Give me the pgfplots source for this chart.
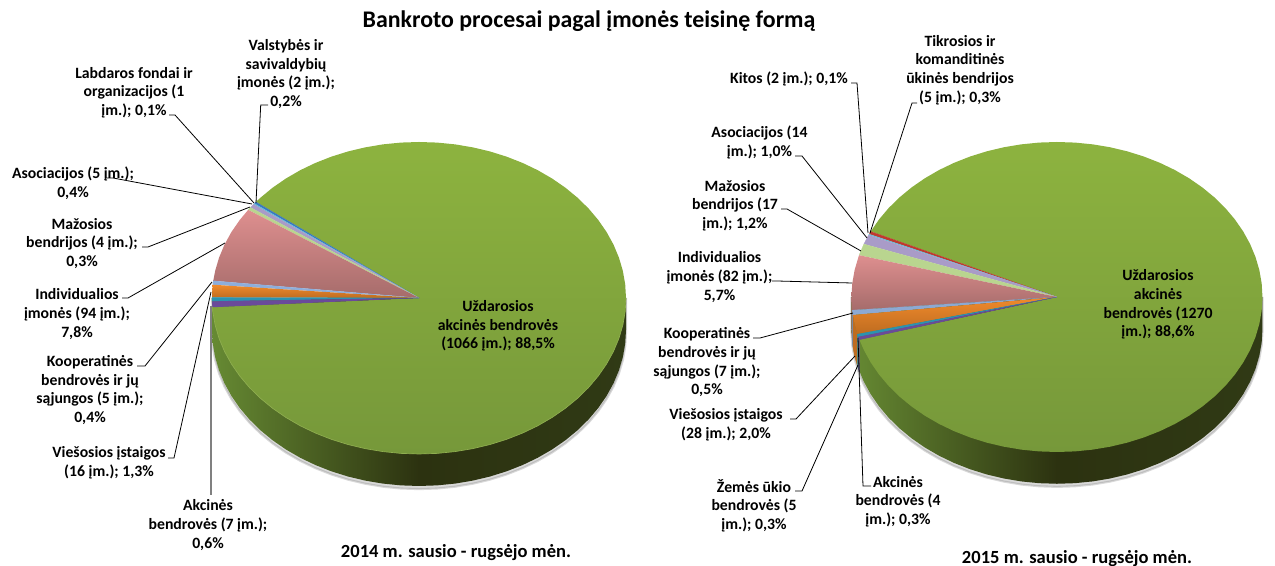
\documentclass[border=0pt]{standalone}
\usepackage{pgfplots}
\usepackage{pgfplotstable}
\usepackage{fontspec}
\setmainfont{Carlito}
\pgfplotsset{compat=1.18}
\definecolor{gT}{HTML}{8DB33F}\definecolor{gB}{HTML}{76983A}
\definecolor{wL}{HTML}{668A33}\definecolor{wM}{HTML}{2C3210}\definecolor{wR}{HTML}{303A15}
\definecolor{rT}{HTML}{DE8F8F}\definecolor{rB}{HTML}{A66C6B}
\definecolor{oT}{HTML}{F08A2C}\definecolor{oB}{HTML}{BE6C20}
\definecolor{lb}{HTML}{8DAEDC}\definecolor{lav}{HTML}{A99BC8}\definecolor{lg}{HTML}{B9D58F}
\definecolor{blu}{HTML}{3A78C0}\definecolor{cya}{HTML}{5FC0D8}\definecolor{tea}{HTML}{2B93B0}
\definecolor{pur}{HTML}{6A4A9A}\definecolor{red1}{HTML}{C0392F}\definecolor{rim}{HTML}{8FAE50}
\pgfplotstableread{
u v w s
-1 0 0 0
-1 0 -0.205 -0.225
-0.9962 -0.0872 -0.2922 -0.3122
-0.9848 -0.1736 -0.3786 -0.3986
-0.9659 -0.2588 -0.4638 -0.4838
-0.9397 -0.3420 -0.5470 -0.5670
-0.9063 -0.4226 -0.6276 -0.6476
-0.8660 -0.5000 -0.7050 -0.7250
-0.8192 -0.5736 -0.7786 -0.7986
-0.7660 -0.6428 -0.8478 -0.8678
-0.7071 -0.7071 -0.9121 -0.9321
-0.6428 -0.7660 -0.9710 -0.9910
-0.5736 -0.8192 -1.0242 -1.0442
-0.5000 -0.8660 -1.0710 -1.0910
-0.4226 -0.9063 -1.1113 -1.1313
-0.3420 -0.9397 -1.1447 -1.1647
-0.2588 -0.9659 -1.1709 -1.1909
-0.1736 -0.9848 -1.1898 -1.2098
-0.0872 -0.9962 -1.2012 -1.2212
0 -1 -1.2050 -1.2250
0.0872 -0.9962 -1.2012 -1.2212
0.1736 -0.9848 -1.1898 -1.2098
0.2588 -0.9659 -1.1709 -1.1909
0.3420 -0.9397 -1.1447 -1.1647
0.4226 -0.9063 -1.1113 -1.1313
0.5000 -0.8660 -1.0710 -1.0910
0.5736 -0.8192 -1.0242 -1.0442
0.6428 -0.7660 -0.9710 -0.9910
0.7071 -0.7071 -0.9121 -0.9321
0.7660 -0.6428 -0.8478 -0.8678
0.8192 -0.5736 -0.7786 -0.7986
0.8660 -0.5000 -0.7050 -0.7250
0.9063 -0.4226 -0.6276 -0.6476
0.9397 -0.3420 -0.5470 -0.5670
0.9659 -0.2588 -0.4638 -0.4838
0.9848 -0.1736 -0.3786 -0.3986
0.9962 -0.0872 -0.2922 -0.3122
1 0 -0.205 -0.225
1 0 0 0
}\lowerarc
\pgfplotsset{pie/.style={scale only axis,xmin=-1,xmax=1,ymin=-1,ymax=1,hide axis,clip=false,anchor=south west},
 s/.style={draw=#1,fill=#1,line width=0.15pt}}
\tikzset{lbl/.style={align=center,inner sep=0pt,font=\fontsize{11.8}{14}\selectfont\bfseries,text=black},
 ldr/.style={black,line width=0.6pt}}
\begin{document}
\begin{tikzpicture}
\useasboundingbox (0pt,0pt) rectangle (956.25pt,424.5pt);
% ---------- 2014 pie
\begin{axis}[pie,at={(159pt,84pt)},width=310.5pt,height=234pt]
\addplot[draw=gray,line width=1.6pt,fill=gray,opacity=0.3] table[x=u,y=s]{\lowerarc};
\addplot[draw=none,left color=wL,right color=wR,middle color=wM] table[x=u,y=w]{\lowerarc};
\addplot[draw=none,top color=gT,bottom color=gB] coordinates {(0,0)(-0.7880,0.6157)(-0.7660,0.6428)(-0.7071,0.7071)(-0.6428,0.7660)(-0.5736,0.8192)(-0.5,0.8660)(-0.4226,0.9063)(-0.3420,0.9397)(-0.2588,0.9659)(-0.1736,0.9848)(-0.0872,0.9962)(0,1)(0.0872,0.9962)(0.1736,0.9848)(0.2588,0.9659)(0.3420,0.9397)(0.4226,0.9063)(0.5,0.8660)(0.5736,0.8192)(0.6428,0.7660)(0.7071,0.7071)(0.7660,0.6428)(0.8192,0.5736)(0.8660,0.5)(0.9063,0.4226)(0.9397,0.3420)(0.9659,0.2588)(0.9848,0.1736)(0.9962,0.0872)(1,0)(0.9962,-0.0872)(0.9848,-0.1736)(0.9659,-0.2588)(0.9397,-0.3420)(0.9063,-0.4226)(0.8660,-0.5)(0.8192,-0.5736)(0.7660,-0.6428)(0.7071,-0.7071)(0.6428,-0.7660)(0.5736,-0.8192)(0.5,-0.8660)(0.4226,-0.9063)(0.3420,-0.9397)(0.2588,-0.9659)(0.1736,-0.9848)(0.0872,-0.9962)(0,-1)(-0.0872,-0.9962)(-0.1736,-0.9848)(-0.2588,-0.9659)(-0.3420,-0.9397)(-0.4226,-0.9063)(-0.5,-0.8660)(-0.5736,-0.8192)(-0.6428,-0.7660)(-0.7071,-0.7071)(-0.7660,-0.6428)(-0.8192,-0.5736)(-0.8660,-0.5)(-0.9063,-0.4226)(-0.9397,-0.3420)(-0.9659,-0.2588)(-0.9848,-0.1736)(-0.9962,-0.0872)(-0.9982,-0.0593)};
\addplot[rim,line width=0.5pt] table[x=u,y=v]{\lowerarc};
\addplot[s=blu] coordinates {(0,0)(-0.7880,0.6157)(-0.7957,0.6057)};
\addplot[s=cya] coordinates {(0,0)(-0.7957,0.6057)(-0.7994,0.6007)};
\addplot[s=lav] coordinates {(0,0)(-0.7994,0.6007)(-0.8144,0.5805)};
\addplot[s=lg] coordinates {(0,0)(-0.8144,0.5805)(-0.8251,0.5650)};
\addplot[draw=none,top color=rT,bottom color=rB] coordinates {(0,0)(-0.8251,0.5650)(-0.8660,0.5)(-0.9063,0.4226)(-0.9397,0.3420)(-0.9659,0.2588)(-0.9848,0.1736)(-0.9939,0.1101)};
\addplot[s=lb] coordinates {(0,0)(-0.9939,0.1101)(-0.9964,0.0851)};
\addplot[draw=none,top color=oT,bottom color=oB] coordinates {(0,0)(-0.9964,0.0851)(-0.9990,0.0436)(-1,0.0035)};
\addplot[s=tea] coordinates {(0,0)(-1,0.0035)(-0.9998,-0.0216)};
\addplot[s=pur] coordinates {(0,0)(-0.9998,-0.0216)(-0.9982,-0.0593)};
\end{axis}
% ---------- 2015 pie
\begin{axis}[pie,at={(638.6pt,85.5pt)},width=308.25pt,height=232.5pt]
\addplot[draw=gray,line width=1.6pt,fill=gray,opacity=0.3] table[x=u,y=s]{\lowerarc};
\addplot[draw=none,left color=wL,right color=wR,middle color=wM] table[x=u,y=w]{\lowerarc};
\addplot[s=rB] coordinates {(-1,0)(-0.9964,-0.0851)(-0.9964,-0.2911)(-1,-0.206)};
\addplot[s=lb!80!black] coordinates {(-0.9964,-0.0851)(-0.9932,-0.1163)(-0.9932,-0.3223)(-0.9964,-0.2911)};
\addplot[s=oB] coordinates {(-0.9932,-0.1163)(-0.9848,-0.1736)(-0.9708,-0.2399)(-0.9708,-0.4459)(-0.9848,-0.3796)(-0.9932,-0.3223)};
\addplot[s=tea] coordinates {(-0.9708,-0.2399)(-0.9661,-0.2581)(-0.9661,-0.4641)(-0.9708,-0.4459)};
\addplot[s=pur] coordinates {(-0.9661,-0.2581)(-0.9611,-0.2763)(-0.9611,-0.4823)(-0.9661,-0.4641)};
\addplot[draw=none,top color=gT,bottom color=gB] coordinates {(0,0)(-0.9063,0.4226)(-0.8660,0.5)(-0.8192,0.5736)(-0.7660,0.6428)(-0.7071,0.7071)(-0.6428,0.7660)(-0.5736,0.8192)(-0.5,0.8660)(-0.4226,0.9063)(-0.3420,0.9397)(-0.2588,0.9659)(-0.1736,0.9848)(-0.0872,0.9962)(0,1)(0.0872,0.9962)(0.1736,0.9848)(0.2588,0.9659)(0.3420,0.9397)(0.4226,0.9063)(0.5,0.8660)(0.5736,0.8192)(0.6428,0.7660)(0.7071,0.7071)(0.7660,0.6428)(0.8192,0.5736)(0.8660,0.5)(0.9063,0.4226)(0.9397,0.3420)(0.9659,0.2588)(0.9848,0.1736)(0.9962,0.0872)(1,0)(0.9962,-0.0872)(0.9848,-0.1736)(0.9659,-0.2588)(0.9397,-0.3420)(0.9063,-0.4226)(0.8660,-0.5)(0.8192,-0.5736)(0.7660,-0.6428)(0.7071,-0.7071)(0.6428,-0.7660)(0.5736,-0.8192)(0.5,-0.8660)(0.4226,-0.9063)(0.3420,-0.9397)(0.2588,-0.9659)(0.1736,-0.9848)(0.0872,-0.9962)(0,-1)(-0.0872,-0.9962)(-0.1736,-0.9848)(-0.2588,-0.9659)(-0.3420,-0.9397)(-0.4226,-0.9063)(-0.5,-0.8660)(-0.5736,-0.8192)(-0.6428,-0.7660)(-0.7071,-0.7071)(-0.7660,-0.6428)(-0.8192,-0.5736)(-0.8660,-0.5)(-0.9063,-0.4226)(-0.9397,-0.3420)(-0.9611,-0.2763)};
\addplot[s=red1] coordinates {(0,0)(-0.9063,0.4226)(-0.9141,0.4054)};
\addplot[s=cya] coordinates {(0,0)(-0.9141,0.4054)(-0.9166,0.3996)};
\addplot[s=lav] coordinates {(0,0)(-0.9166,0.3996)(-0.9399,0.3414)};
\addplot[s=lg] coordinates {(0,0)(-0.9399,0.3414)(-0.9630,0.2696)};
\addplot[draw=none,top color=rT,bottom color=rB] coordinates {(0,0)(-0.9630,0.2696)(-0.9659,0.2588)(-0.9848,0.1736)(-0.9962,0.0872)(-1,0)(-0.9964,-0.0851)};
\addplot[s=lb!90!gray] coordinates {(0,0)(-0.9964,-0.0851)(-0.9932,-0.1163)};
\addplot[draw=none,top color=oT,bottom color=oB] coordinates {(0,0)(-0.9932,-0.1163)(-0.9848,-0.1736)(-0.9708,-0.2399)};
\addplot[s=tea] coordinates {(0,0)(-0.9708,-0.2399)(-0.9661,-0.2581)};
\addplot[s=pur] coordinates {(0,0)(-0.9661,-0.2581)(-0.9611,-0.2763)};
\end{axis}
% ---------- layout axis in image pixels: leaders and texts
\begin{axis}[at={(0pt,0pt)},anchor=south west,scale only axis,width=956.25pt,height=424.5pt,xmin=0,xmax=1275,ymin=0,ymax=566,y dir=reverse,hide axis,clip=false]
\addplot[ldr] coordinates {(256,203)(260.7,105)(268,105)};
\addplot[ldr] coordinates {(254,203)(175,115)(169,115)};
\addplot[ldr] coordinates {(252,204)(113,178)(105,178)};
\addplot[ldr] coordinates {(250,207)(148,247)(142,247)};
\addplot[ldr] coordinates {(225,243)(128,298)(122,298)};
\addplot[ldr] coordinates {(212,282)(145,366)(137,366)};
\addplot[ldr] coordinates {(211,292)(174,458)(168,458)};
\addplot[gray,line width=1.1pt] coordinates {(211,306)(211,495)};
\addplot[ldr] coordinates {(868,233)(857,83)(851,83)};
\addplot[ldr] coordinates {(870,233)(912,103)(917,103)};
\addplot[ldr] coordinates {(867,238)(802,156)(795,156)};
\addplot[ldr] coordinates {(861,251)(787,209)(781,209)};
\addplot[ldr] coordinates {(852,283)(777,281)(772,281)};
\addplot[ldr] coordinates {(853,313)(760,338)(753,338)};
\addplot[ldr] coordinates {(855,356)(796,419)(790,419)};
\addplot[ldr] coordinates {(858,365)(802,491)(795,491)};
\addplot[ldr] coordinates {(858,338)(863,486)(871,486)};
\node[inner sep=0pt,font=\fontsize{17.9}{20}\selectfont\bfseries] at (axis cs:589,21) {Bankroto procesai pagal įmonės teisinę formą};
\node[lbl] at (axis cs:286,74) {Valstybės ir\\savivaldybių\\įmonės (2 įm.);\\0,2\%};
\node[lbl] at (axis cs:134,92.5) {Labdaros fondai ir\\organizacijos (1\\įm.); 0,1\%};
\node[lbl] at (axis cs:73,183) {Asociacijos (5 įm.);\\0,4\%};
\node[lbl] at (axis cs:82,243.5) {Mažosios\\bendrijos (4 įm.);\\0,3\%};
\node[lbl] at (axis cs:77,314) {Individualios\\įmonės (94 įm.);\\7,8\%};
\node[lbl] at (axis cs:90,390) {Kooperatinės\\bendrovės ir jų\\sąjungos (5 įm.);\\0,4\%};
\node[lbl] at (axis cs:109,463) {Viešosios įstaigos\\(16 įm.); 1,3\%};
\node[lbl] at (axis cs:208,525) {Akcinės\\bendrovės (7 įm.);\\0,6\%};
\node[lbl] at (axis cs:498,326) {Uždarosios\\akcinės bendrovės\\(1066 įm.); 88,5\%};
\node[inner sep=0pt,font=\fontsize{13.9}{16}\selectfont\bfseries] at (axis cs:456,553) {2014 m. sausio - rugsėjo mėn.};
\node[lbl] at (axis cs:789,79) {Kitos (2 įm.); 0,1\%};
\node[lbl] at (axis cs:960,70) {Tikrosios ir\\komanditinės\\ūkinės bendrijos\\(5 įm.); 0,3\%};
\node[lbl] at (axis cs:759.5,142.5) {Asociacijos (14\\įm.); 1,0\%};
\node[lbl] at (axis cs:735,205.5) {Mažosios\\bendrijos (17\\įm.); 1,2\%};
\node[lbl] at (axis cs:719.5,277) {Individualios\\įmonės (82 įm.);\\5,7\%};
\node[lbl] at (axis cs:707,362.5) {Kooperatinės\\bendrovės ir jų\\sąjungos (7 įm.);\\0,5\%};
\node[lbl] at (axis cs:726,424.5) {Viešosios įstaigos\\(28 įm.); 2,0\%};
\node[lbl] at (axis cs:754,505.5) {Žemės ūkio\\bendrovės (5\\įm.); 0,3\%};
\node[lbl] at (axis cs:898,501.5) {Akcinės\\bendrovės (4\\įm.); 0,3\%};
\node[lbl] at (axis cs:1158,304.5) {Uždarosios\\akcinės\\bendrovės (1270\\įm.); 88,6\%};
\node[inner sep=0pt,font=\fontsize{13.9}{16}\selectfont\bfseries] at (axis cs:1077,559) {2015 m. sausio - rugsėjo mėn.};
\end{axis}
\end{tikzpicture}
\end{document}
